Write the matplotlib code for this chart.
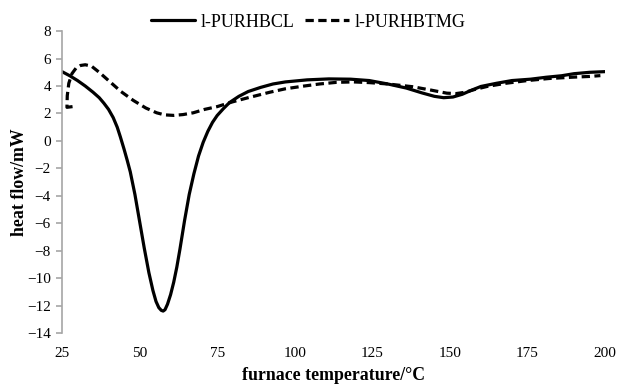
# plot.py
# DSC heat flow curves for the two l-PUR samples

import numpy as np
import matplotlib
matplotlib.use("Agg")
import matplotlib.pyplot as plt

# Solid curve: l-PURHBCL
temp_hbcl = [25, 27.5, 30, 32.5, 35, 37, 38.5, 40, 41.5, 42.8, 43.8, 45, 46,
             47, 48.5, 50, 51.5, 53, 54.3, 55.3, 56.2, 57, 57.6, 58.2, 59,
             60, 61, 62, 63, 64.5, 66, 67.5, 69, 70.5, 72, 73.5, 75, 77, 79,
             82, 85, 89, 93, 97, 104, 111, 118, 124, 130, 136, 141, 145, 148,
             151, 154, 157, 160, 165, 170, 176, 181, 186, 190, 195, 200]
heat_hbcl = [5.05, 4.75, 4.4, 4.0, 3.55, 3.15, 2.75, 2.3, 1.7, 1.0, 0.3, -0.6,
             -1.4, -2.25, -3.9, -5.85, -7.8, -9.6, -10.9, -11.7, -12.15, -12.35,
             -12.4, -12.3, -11.9, -11.2, -10.3, -9.2, -7.9, -5.8, -3.9, -2.4,
             -1.1, -0.1, 0.7, 1.35, 1.85, 2.35, 2.8, 3.25, 3.6, 3.9, 4.15, 4.3,
             4.45, 4.52, 4.5, 4.4, 4.15, 3.85, 3.5, 3.25, 3.15, 3.2, 3.4, 3.7,
             3.97, 4.2, 4.4, 4.5, 4.64, 4.75, 4.9, 5.0, 5.05]

# Dashed curve: l-PURHBTMG
temp_hbtmg = [28.4, 26.6, 26.7, 27.2, 28.2, 29.5, 31, 32.5, 34.5, 37, 40.5, 44,
              48, 52, 55.5, 58, 61, 64, 67.3, 71, 75, 80, 85, 92, 97, 103, 108,
              113.5, 119, 124, 130, 138, 144, 149, 152, 155, 158, 162, 168, 175,
              182, 190, 195, 198.5]
heat_hbtmg = [2.5, 2.45, 3.3, 4.2, 4.9, 5.3, 5.5, 5.55, 5.45, 5.0, 4.3, 3.6,
              2.95, 2.4, 2.05, 1.9, 1.86, 1.92, 2.05, 2.3, 2.5, 2.85, 3.15, 3.55,
              3.8, 4.0, 4.15, 4.27, 4.3, 4.25, 4.15, 3.95, 3.7, 3.48, 3.45, 3.55,
              3.75, 3.97, 4.2, 4.4, 4.55, 4.65, 4.7, 4.76]

x_ticks = [25, 50, 75, 100, 125, 150, 175, 200]
y_ticks = [8, 6, 4, 2, 0, -2, -4, -6, -8, -10, -12, -14]

plt.rcParams['font.family'] = ['Liberation Serif', 'DejaVu Serif']
plt.rcParams['font.size'] = 11

fig = plt.figure(figsize=(6.3, 3.87), dpi=100)
ax = fig.add_axes([0.0984, 0.1395, 0.862, 0.780])

ax.plot(temp_hbcl, heat_hbcl, color='black', lw=2.3, solid_capstyle='round',
        solid_joinstyle='round', label='l-PURHBCL')
ax.plot(temp_hbtmg, heat_hbtmg, color='black', lw=2.3,
        linestyle=(0, (2.6, 1.4)), label='l-PURHBTMG')

ax.set_xlim(25, 200)
ax.set_ylim(-14, 8)
ax.set_xticks(x_ticks)
ax.set_yticks(y_ticks)

for side in ['top', 'right', 'bottom']:
    ax.spines[side].set_visible(False)
ax.spines['left'].set_color('#a6a6a6')
ax.spines['left'].set_linewidth(1.2)
ax.tick_params(axis='y', color='#a6a6a6', length=4, width=1.2, pad=4)
ax.tick_params(axis='x', length=0, pad=10)

ax.set_xlabel('furnace temperature/°C', fontweight='bold', fontsize=12.8,
              labelpad=5)
ax.set_ylabel('heat flow/mW', fontweight='bold', fontsize=12.8, labelpad=-1)

fig.legend(loc='center', bbox_to_anchor=(0.489, 0.943), ncol=2, frameon=False,
           fontsize=13, handlelength=2.45, handletextpad=0.3,
           columnspacing=0.6)

fig.savefig('out.png', dpi=100)
